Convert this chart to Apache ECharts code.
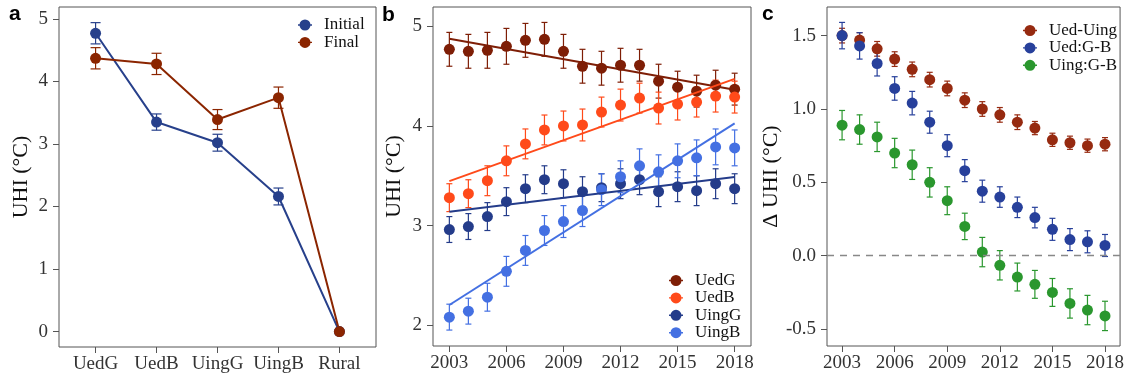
<!DOCTYPE html>
<html>
<head>
<meta charset="utf-8">
<script src="https://cdn.jsdelivr.net/npm/echarts@6/dist/echarts.min.js"></script>
<style>
html, body { margin: 0; padding: 0; background: #fff; }
#main { width: 1127px; height: 376px; }
</style>
</head>
<body>
<div id="main"></div>
<script>
// ---- panel a : UHI by class, initial vs final ----
var classes = ['UedG', 'UedB', 'UingG', 'UingB', 'Rural'];
var initialUHI = [4.77, 3.35, 3.02, 2.16, 0];
var initialSE = [0.17, 0.13, 0.135, 0.135, 0];
var finalUHI = [4.37, 4.28, 3.39, 3.74, 0];
var finalSE = [0.17, 0.17, 0.16, 0.17, 0];

// ---- panel b : yearly UHI ----
var years = [2003, 2004, 2005, 2006, 2007, 2008, 2009, 2010, 2011, 2012, 2013, 2014, 2015, 2016, 2017, 2018];
var yearTicks = [2003, 2006, 2009, 2012, 2015, 2018];
var uedG = [4.77, 4.75, 4.76, 4.80, 4.86, 4.87, 4.75, 4.60, 4.58, 4.61, 4.61, 4.45, 4.39, 4.35, 4.41, 4.37];
var uedGSE = [0.17, 0.17, 0.18, 0.18, 0.17, 0.17, 0.17, 0.17, 0.17, 0.17, 0.16, 0.17, 0.16, 0.16, 0.15, 0.16];
var uedB = [3.28, 3.32, 3.45, 3.65, 3.82, 3.96, 4.00, 4.01, 4.14, 4.21, 4.28, 4.18, 4.22, 4.24, 4.30, 4.29];
var uedBSE = [0.14, 0.14, 0.15, 0.15, 0.15, 0.15, 0.15, 0.16, 0.15, 0.16, 0.15, 0.16, 0.16, 0.15, 0.16, 0.16];
var uingG = [2.96, 2.99, 3.09, 3.24, 3.37, 3.46, 3.42, 3.34, 3.38, 3.42, 3.46, 3.34, 3.39, 3.35, 3.42, 3.37];
var uingGSE = [0.13, 0.13, 0.14, 0.14, 0.14, 0.14, 0.14, 0.15, 0.14, 0.15, 0.15, 0.15, 0.15, 0.15, 0.15, 0.15];
var uingB = [2.08, 2.14, 2.28, 2.54, 2.75, 2.95, 3.04, 3.15, 3.36, 3.49, 3.60, 3.54, 3.65, 3.68, 3.79, 3.78];
var uingBSE = [0.13, 0.13, 0.14, 0.15, 0.15, 0.15, 0.16, 0.16, 0.16, 0.16, 0.17, 0.17, 0.17, 0.18, 0.18, 0.18];

// ---- panel c : yearly UHI differences ----
var cTicks = [-0.5, 0, 0.5, 1.0, 1.5];
var dUedUing = [1.50, 1.47, 1.41, 1.34, 1.27, 1.20, 1.14, 1.06, 1.00, 0.96, 0.91, 0.87, 0.79, 0.77, 0.75, 0.76];
var dUedUingSE = [0.05, 0.05, 0.05, 0.05, 0.05, 0.05, 0.05, 0.05, 0.05, 0.05, 0.05, 0.045, 0.045, 0.045, 0.045, 0.045];
var dUedGB = [1.50, 1.43, 1.31, 1.14, 1.04, 0.91, 0.75, 0.58, 0.44, 0.40, 0.33, 0.26, 0.18, 0.11, 0.095, 0.07];
var dUedGBSE = [0.09, 0.09, 0.085, 0.08, 0.08, 0.075, 0.075, 0.075, 0.075, 0.07, 0.07, 0.07, 0.075, 0.075, 0.075, 0.075];
var dUingGB = [0.89, 0.86, 0.81, 0.70, 0.62, 0.50, 0.375, 0.20, 0.025, -0.065, -0.145, -0.195, -0.25, -0.325, -0.37, -0.41];
var dUingGBSE = [0.10, 0.10, 0.10, 0.10, 0.10, 0.10, 0.095, 0.09, 0.10, 0.10, 0.095, 0.095, 0.095, 0.10, 0.10, 0.10];

var serif = 'Liberation Serif';
var frame = '#555';

var myChart = echarts.init(document.getElementById('main'));

function errorBars(axis, xs, ys, se, color, cap) {
    var data = [];
    for (var i = 0; i < xs.length; i++) {
        if (se[i] > 0) data.push([xs[i], ys[i] - se[i], ys[i] + se[i]]);
    }
    return {
        type: 'custom', xAxisIndex: axis, yAxisIndex: axis, data: data, silent: true, z: 2,
        encode: { x: 0, y: [1, 2] },
        renderItem: function (params, api) {
            var lo = api.coord([api.value(0), api.value(1)]);
            var hi = api.coord([api.value(0), api.value(2)]);
            var st = { stroke: color, lineWidth: 1.2 };
            return {
                type: 'group', children: [
                    { type: 'line', shape: { x1: lo[0], y1: lo[1], x2: hi[0], y2: hi[1] }, style: st },
                    { type: 'line', shape: { x1: lo[0] - cap, y1: lo[1], x2: lo[0] + cap, y2: lo[1] }, style: st },
                    { type: 'line', shape: { x1: hi[0] - cap, y1: hi[1], x2: hi[0] + cap, y2: hi[1] }, style: st }
                ]
            };
        }
    };
}

function pairs(xs, ys) {
    return xs.map(function (x, i) { return [x, ys[i]]; });
}

// least squares line over the years
function fitLine(xs, ys) {
    var n = xs.length, mx = 0, my = 0, sxy = 0, sxx = 0;
    for (var i = 0; i < n; i++) { mx += xs[i] / n; my += ys[i] / n; }
    for (var j = 0; j < n; j++) { sxy += (xs[j] - mx) * (ys[j] - my); sxx += (xs[j] - mx) * (xs[j] - mx); }
    var b = sxy / sxx, a = my - b * mx;
    return [[xs[0], a + b * xs[0]], [xs[n - 1], a + b * xs[n - 1]]];
}

function points(name, axis, xs, ys, color) {
    return {
        name: name, type: 'scatter', xAxisIndex: axis, yAxisIndex: axis, z: 3,
        symbol: 'circle', symbolSize: 11, itemStyle: { color: color, opacity: 1 },
        data: pairs(xs, ys)
    };
}

function fitSeries(axis, xs, ys, color) {
    return {
        type: 'line', xAxisIndex: axis, yAxisIndex: axis, z: 4, showSymbol: false, silent: true,
        lineStyle: { color: color, width: 2 }, data: fitLine(xs, ys)
    };
}

var idx = classes.map(function (c, i) { return i; });

function xAxisOf(grid, min, max, ticks, fmt) {
    return {
        type: 'value', gridIndex: grid, min: min, max: max,
        axisLine: { show: false, onZero: false },
        splitLine: { show: false },
        axisTick: { show: true, length: 6, lineStyle: { color: frame, width: 1 }, customValues: ticks },
        axisLabel: { customValues: ticks, formatter: fmt, margin: 8, fontFamily: serif, fontSize: 19, color: '#333' }
    };
}

function yAxisOf(grid, min, max, ticks, fmt, name, gap) {
    return {
        type: 'value', gridIndex: grid, min: min, max: max,
        name: name, nameLocation: 'middle', nameGap: gap,
        nameTextStyle: { fontFamily: serif, fontSize: 22, color: '#111' },
        axisLine: { show: false, onZero: false },
        splitLine: { show: false },
        axisTick: { show: true, length: 6, lineStyle: { color: frame, width: 1 }, customValues: ticks },
        axisLabel: { customValues: ticks, formatter: fmt, margin: 11, fontFamily: serif, fontSize: 19, color: '#333' }
    };
}

function legendAt(names, left, top) {
    return {
        data: names, orient: 'vertical', left: left, top: top, padding: 0,
        itemWidth: 14, itemHeight: 11, itemGap: 0.4,
        icon: 'path://M0,4.8L1.8,4.8L1.8,6.2L0,6.2Z M12.2,4.8L14,4.8L14,6.2L12.2,6.2Z M12.5,5.5A5.5,5.5 0 1 1 1.5,5.5A5.5,5.5 0 1 1 12.5,5.5Z',
        selectedMode: false,
        textStyle: { fontFamily: serif, fontSize: 17, color: '#111', lineHeight: 15, padding: [0, 0, 0, 7] }
    };
}

var cA = { initial: '#27408B', final: '#8B2500' };
var cB = { uedG: '#7E1E06', uedB: '#FF4A1A', uingG: '#243C8A', uingB: '#4470E2' };
var cC = { ued: '#962A10', uedGB: '#27409B', uingGB: '#2A972E' };

var option = {
    animation: false,
    backgroundColor: '#fff',
    grid: [
        { left: 59, right: 751, top: 7, bottom: 29, show: true, borderColor: frame, borderWidth: 1 },
        { left: 433, right: 376, top: 7, bottom: 30, show: true, borderColor: frame, borderWidth: 1 },
        { left: 827, right: 4, top: 7, bottom: 30, show: true, borderColor: frame, borderWidth: 1 }
    ],
    xAxis: [
        xAxisOf(0, -0.6, 4.6, idx, function (v) { return classes[Math.round(v)]; }),
        xAxisOf(1, 2002.14, 2018.86, yearTicks, function (v) { return String(v); }),
        xAxisOf(2, 2002.14, 2018.86, yearTicks, function (v) { return String(v); })
    ],
    yAxis: [
        yAxisOf(0, -0.247, 5.19, [0, 1, 2, 3, 4, 5], function (v) { return String(v); }, 'UHI (°C)', 27),
        yAxisOf(1, 1.79, 5.195, [2, 3, 4, 5], function (v) { return String(v); }, 'UHI (°C)', 28),
        yAxisOf(2, -0.615, 1.695, cTicks, function (v) { return v.toFixed(1); }, '\u0394 UHI (°C)', 42)
    ],
    legend: [
        legendAt(['Initial', 'Final'], 298, 16.5),
        legendAt(['UedG', 'UedB', 'UingG', 'UingB'], 669, 272),
        legendAt(['Ued-Uing', 'Ued:G-B', 'Uing:G-B'], 1023, 22)
    ],
    graphic: [
        { type: 'text', left: 9, top: 4, style: { text: 'a', font: 'bold 21px "Liberation Sans"', fill: '#000' } },
        { type: 'text', left: 382, top: 5, style: { text: 'b', font: 'bold 21px "Liberation Sans"', fill: '#000' } },
        { type: 'text', left: 762, top: 4, style: { text: 'c', font: 'bold 21px "Liberation Sans"', fill: '#000' } }
    ],
    series: [
        // panel a
        errorBars(0, idx, initialUHI, initialSE, cA.initial, 5),
        {
            name: 'Initial', type: 'line', xAxisIndex: 0, yAxisIndex: 0, z: 3,
            symbol: 'circle', symbolSize: 11, showAllSymbol: true,
            itemStyle: { color: cA.initial }, lineStyle: { color: cA.initial, width: 2 },
            data: pairs(idx, initialUHI)
        },
        errorBars(0, idx, finalUHI, finalSE, cA.final, 5),
        {
            name: 'Final', type: 'line', xAxisIndex: 0, yAxisIndex: 0, z: 3,
            symbol: 'circle', symbolSize: 11, showAllSymbol: true,
            itemStyle: { color: cA.final }, lineStyle: { color: cA.final, width: 2 },
            data: pairs(idx, finalUHI)
        },

        // panel b
        errorBars(1, years, uedG, uedGSE, cB.uedG, 3),
        points('UedG', 1, years, uedG, cB.uedG),
        fitSeries(1, years, uedG, cB.uedG),
        errorBars(1, years, uedB, uedBSE, cB.uedB, 3),
        points('UedB', 1, years, uedB, cB.uedB),
        fitSeries(1, years, uedB, cB.uedB),
        errorBars(1, years, uingG, uingGSE, cB.uingG, 3),
        points('UingG', 1, years, uingG, cB.uingG),
        fitSeries(1, years, uingG, cB.uingG),
        errorBars(1, years, uingB, uingBSE, cB.uingB, 3),
        points('UingB', 1, years, uingB, cB.uingB),
        fitSeries(1, years, uingB, cB.uingB),

        // panel c
        {
            type: 'line', xAxisIndex: 2, yAxisIndex: 2, data: [], silent: true,
            markLine: {
                silent: true, symbol: 'none', label: { show: false },
                lineStyle: { color: '#888', type: [7, 6], width: 1.3 },
                data: [{ yAxis: 0 }]
            }
        },
        errorBars(2, years, dUedUing, dUedUingSE, cC.ued, 3),
        points('Ued-Uing', 2, years, dUedUing, cC.ued),
        errorBars(2, years, dUedGB, dUedGBSE, cC.uedGB, 3),
        points('Ued:G-B', 2, years, dUedGB, cC.uedGB),
        errorBars(2, years, dUingGB, dUingGBSE, cC.uingGB, 3),
        points('Uing:G-B', 2, years, dUingGB, cC.uingGB)
    ]
};

if (option && typeof option === 'object') {
    myChart.setOption(option, true);
}
</script>
</body>
</html>
